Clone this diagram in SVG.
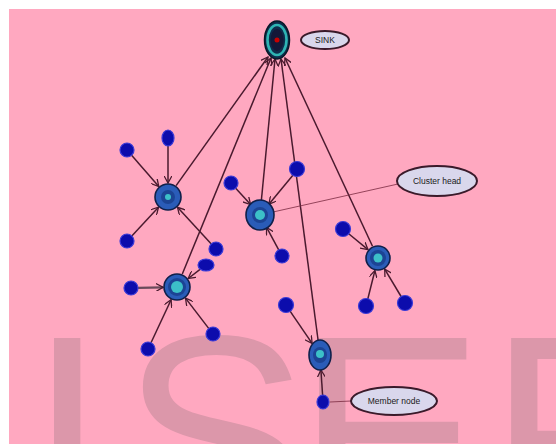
<svg xmlns="http://www.w3.org/2000/svg" width="556" height="444" viewBox="0 0 556 444">
<style>
.wm{font-family:"Liberation Sans",Arial,sans-serif;font-size:282px;fill:#dc97aa}
.ln{stroke:#4a1a2e;stroke-width:1.5;fill:none}
.thin{stroke:#7a2a40;stroke-width:0.8;fill:none}
.mem{fill:#0c0cac;stroke:#3a3ad8;stroke-width:1.2}
.chO{fill:#2a5cb8;stroke:#10204a;stroke-width:1.6}
.chM{fill:#1c4494}
.chI{fill:#3cc0c8}
.lab{fill:#d9d7ec;stroke:#3a1a2a;stroke-width:2}
.lt{font-family:"Liberation Sans",Arial,sans-serif;font-size:8.5px;fill:#1a1a1a;text-anchor:middle}
</style>
<defs>
<marker id="ah" viewBox="0 0 10 10" refX="9" refY="5" markerWidth="8" markerHeight="8" markerUnits="userSpaceOnUse" orient="auto">
<path d="M0,0 L9,5 L0,10" fill="none" stroke="#4a1a2e" stroke-width="1.6"/>
</marker>
</defs>
<rect x="0" y="0" width="556" height="444" fill="#ffffff"/>
<rect x="9" y="9" width="547" height="435" fill="#ffa8c0"/>
<g id="watermark">
<text class="wm" x="28" y="532">I</text>
<text class="wm" x="121" y="532">S</text>
<text class="wm" x="296" y="532">E</text>
<text class="wm" x="488" y="532">R</text>
</g>
<g id="connectors">
<line class="ln" x1="176.1" y1="185.6" x2="268" y2="57" marker-end="url(#ah)"/>
<line class="ln" x1="182.3" y1="274" x2="271" y2="58" marker-end="url(#ah)"/>
<line class="ln" x1="261.3" y1="201" x2="275" y2="59" marker-end="url(#ah)"/>
<line class="ln" x1="318.2" y1="341" x2="281" y2="59" marker-end="url(#ah)"/>
<line class="ln" x1="372.5" y1="246.2" x2="285" y2="58" marker-end="url(#ah)"/>
<line class="ln" x1="131.6" y1="155.3" x2="158.8" y2="186.5" marker-end="url(#ah)"/>
<line class="ln" x1="168" y1="146" x2="168" y2="183" marker-end="url(#ah)"/>
<line class="ln" x1="131.8" y1="235.9" x2="158.5" y2="207.2" marker-end="url(#ah)"/>
<line class="ln" x1="211.3" y1="243.9" x2="177.5" y2="207.3" marker-end="url(#ah)"/>
<line class="ln" x1="235.7" y1="188.2" x2="250.6" y2="204.6" marker-end="url(#ah)"/>
<line class="ln" x1="293.5" y1="174.4" x2="268.9" y2="204.2" marker-end="url(#ah)"/>
<line class="ln" x1="278.7" y1="249.8" x2="266.6" y2="227.3" marker-end="url(#ah)"/>
<line class="ln" x1="138" y1="287.9" x2="163" y2="287.3" marker-end="url(#ah)" style="stroke-width:2.2;stroke:#6a4a5a"/>
<line class="ln" x1="200.4" y1="269.2" x2="188.2" y2="278.5" marker-end="url(#ah)"/>
<line class="ln" x1="151" y1="342.7" x2="171.1" y2="299.7" marker-end="url(#ah)"/>
<line class="ln" x1="208.7" y1="328.4" x2="185.5" y2="298.1" marker-end="url(#ah)"/>
<line class="ln" x1="348.4" y1="233.5" x2="368" y2="249.7" marker-end="url(#ah)"/>
<line class="ln" x1="367.7" y1="299.2" x2="374.9" y2="270.6" marker-end="url(#ah)"/>
<line class="ln" x1="401.4" y1="297" x2="384.7" y2="269.1" marker-end="url(#ah)"/>
<line class="ln" x1="289.9" y1="310.8" x2="312.1" y2="343.4" marker-end="url(#ah)"/>
<line class="ln" x1="322.6" y1="395" x2="320.9" y2="370" marker-end="url(#ah)"/>
<line class="thin" x1="273" y1="212" x2="398" y2="184"/>
<line class="thin" x1="330" y1="402" x2="351" y2="401"/>
</g>
<g id="sink">
<ellipse cx="277" cy="40" rx="12.5" ry="19" fill="#0e2c4c" stroke="#081828" stroke-width="1.5"/>
<ellipse cx="277" cy="40" rx="9.5" ry="15" fill="none" stroke="#2fb4b4" stroke-width="2.6"/>
<ellipse cx="277" cy="40" rx="6.5" ry="11" fill="#141838"/>
<circle cx="277" cy="40" r="2.5" fill="#c80000"/>
</g>
<g id="sink-label">
<ellipse class="lab" cx="325" cy="40" rx="24" ry="9"/>
<text class="lt" x="325" y="43">SINK</text>
</g>
<g id="cluster-head-label">
<ellipse class="lab" cx="437" cy="181" rx="40" ry="15"/>
<text class="lt" x="437" y="184">Cluster head</text>
</g>
<g id="member-node-label">
<ellipse class="lab" cx="394" cy="401" rx="43" ry="14"/>
<text class="lt" x="394" y="404">Member node</text>
</g>
<g id="ch1"><circle class="chO" cx="168" cy="197" r="13"/><circle class="chM" cx="168" cy="197" r="7"/><circle class="chI" cx="168" cy="197" r="3"/></g>
<g id="ch2"><ellipse class="chO" cx="260" cy="215" rx="14" ry="15"/><circle class="chM" cx="260" cy="215" r="8"/><circle class="chI" cx="260" cy="215" r="5"/></g>
<g id="ch3"><circle class="chO" cx="177" cy="287" r="13"/><circle class="chM" cx="177" cy="287" r="9"/><circle class="chI" cx="177" cy="287" r="6"/></g>
<g id="ch4"><circle class="chO" cx="378" cy="258" r="12"/><circle class="chM" cx="378" cy="258" r="8"/><circle class="chI" cx="378" cy="258" r="4.5"/></g>
<g id="ch5"><ellipse class="chO" cx="320" cy="355" rx="11" ry="15"/><ellipse class="chM" cx="320" cy="355" rx="7" ry="8"/><circle class="chI" cx="320" cy="354" r="4"/></g>
<g id="m1"><circle class="mem" cx="127" cy="150" r="7"/></g>
<g id="m2"><ellipse class="mem" cx="168" cy="138" rx="6" ry="8"/></g>
<g id="m3"><circle class="mem" cx="127" cy="241" r="7"/></g>
<g id="m4"><circle class="mem" cx="216" cy="249" r="7"/></g>
<g id="m5"><circle class="mem" cx="231" cy="183" r="7"/></g>
<g id="m6"><circle class="mem" cx="297" cy="169" r="7.5"/></g>
<g id="m7"><circle class="mem" cx="282" cy="256" r="7"/></g>
<g id="m8"><circle class="mem" cx="131" cy="288" r="7"/></g>
<g id="m9"><ellipse class="mem" cx="206" cy="265" rx="8" ry="6"/></g>
<g id="m10"><circle class="mem" cx="148" cy="349" r="7"/></g>
<g id="m11"><circle class="mem" cx="213" cy="334" r="7"/></g>
<g id="m12"><circle class="mem" cx="343" cy="229" r="7.5"/></g>
<g id="m13"><circle class="mem" cx="366" cy="306" r="7.5"/></g>
<g id="m14"><circle class="mem" cx="405" cy="303" r="7.5"/></g>
<g id="m15"><circle class="mem" cx="286" cy="305" r="7.5"/></g>
<g id="m16"><ellipse class="mem" cx="323" cy="402" rx="6" ry="7"/></g>
</svg>
